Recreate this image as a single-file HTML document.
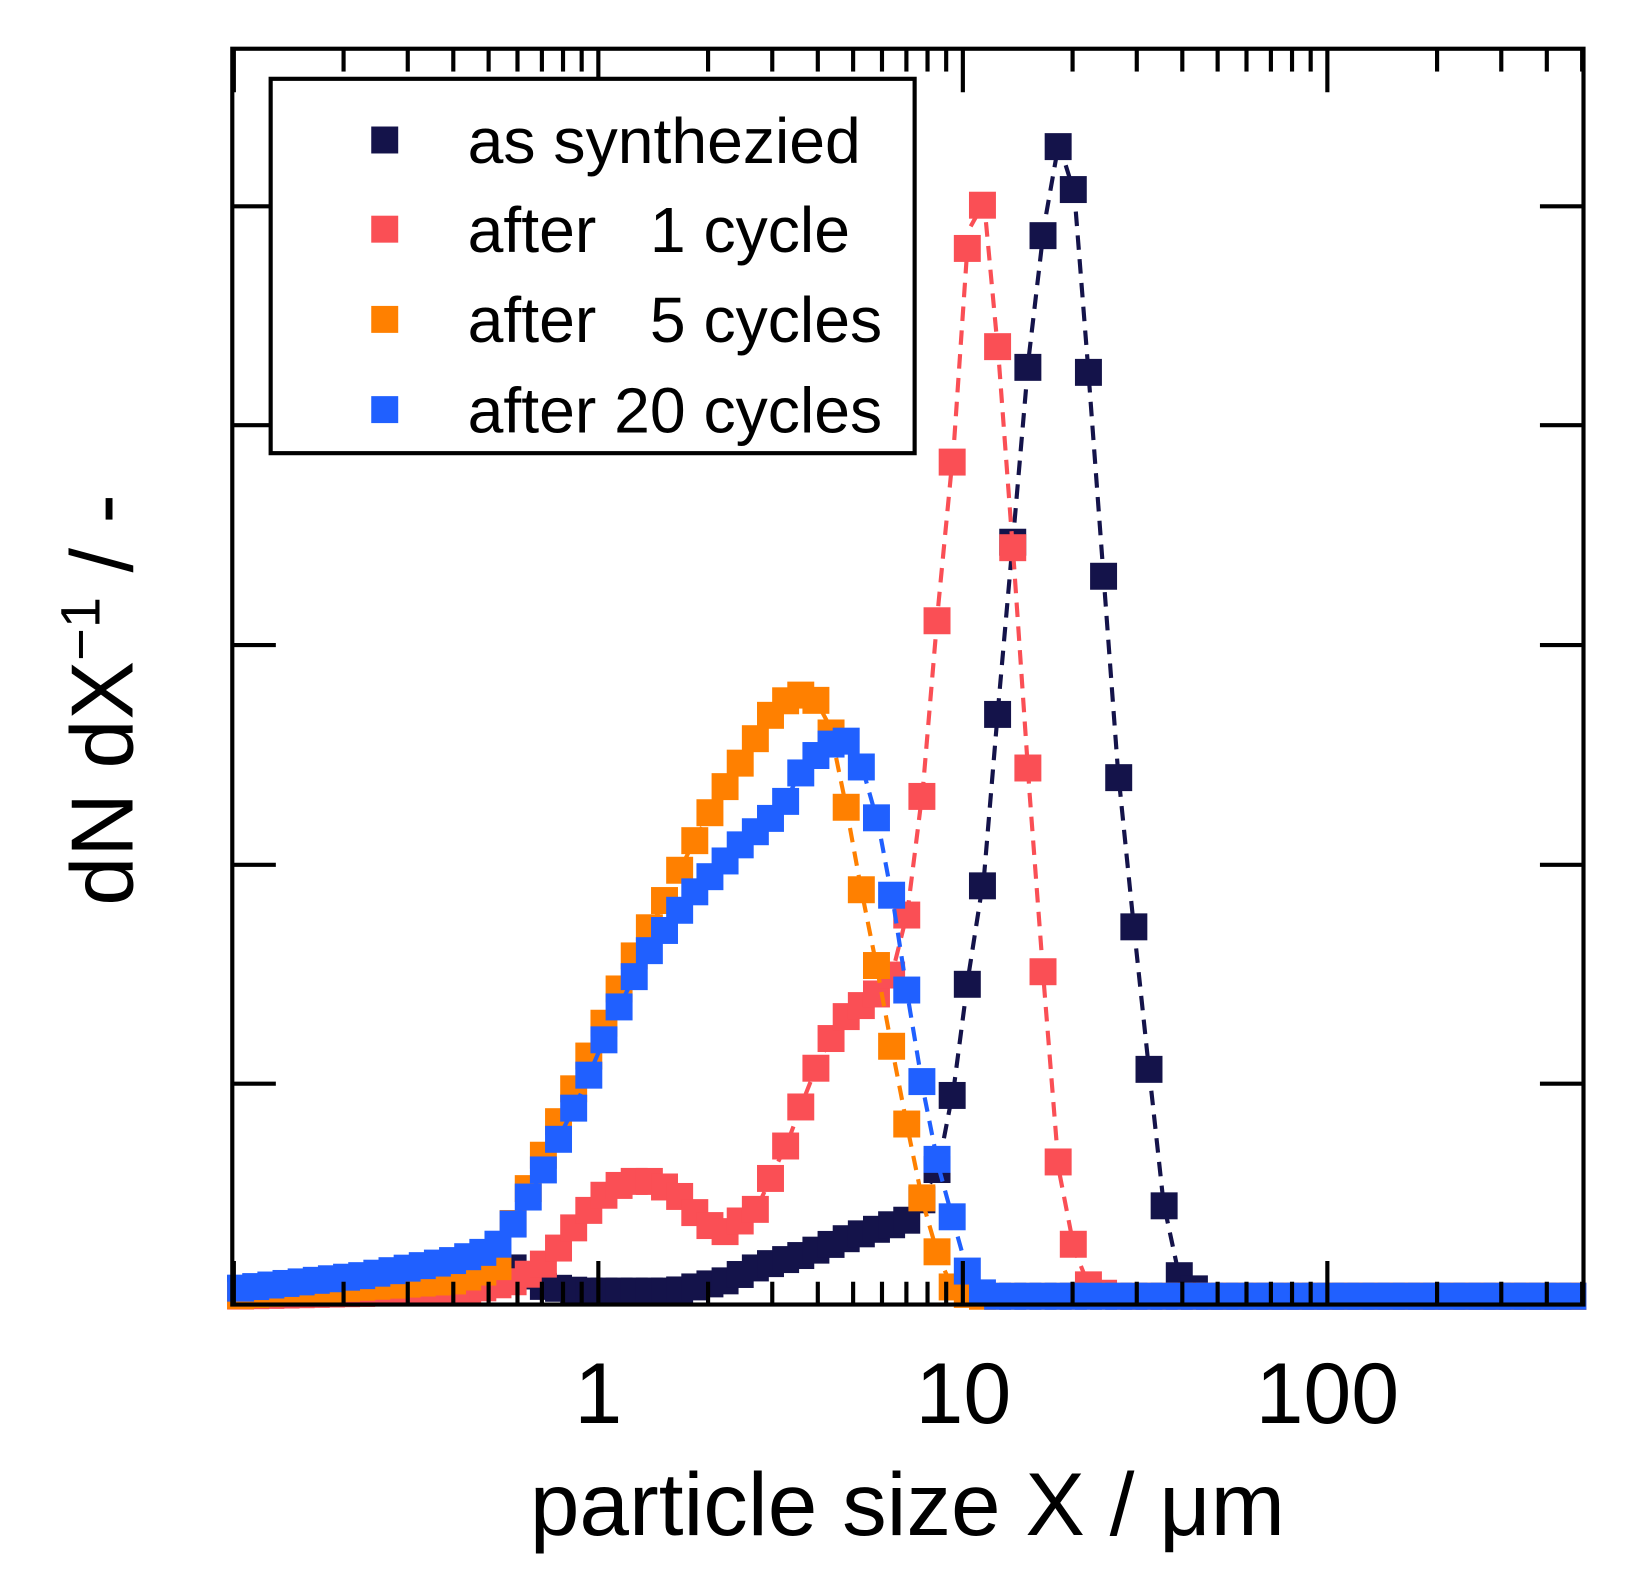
<!DOCTYPE html>
<html><head><meta charset="utf-8"><style>
html,body{margin:0;padding:0;background:#fff;}
svg{display:block;font-family:"Liberation Sans",Arial,sans-serif;}
</style></head><body>
<svg id="s" width="1626" height="1575" viewBox="0 0 1626 1575" xmlns="http://www.w3.org/2000/svg">
<rect width="1626" height="1575" fill="#fff"/>
<g transform="scale(1.037)">
<g id="data"></g>
<g id="axes" stroke="#000" stroke-width="4" fill="none"></g>
<rect x="224" y="47" width="1303" height="1211" fill="none" stroke="#000" stroke-width="4"/>
<rect x="261" y="76" width="621" height="361" fill="#fff" stroke="#000" stroke-width="4"/>
<rect x="358" y="122" width="26" height="26" fill="#14134a"/>
<rect x="358" y="208" width="26" height="26" fill="#fa4f55"/>
<rect x="358" y="295" width="26" height="26" fill="#ff8000"/>
<rect x="358" y="382" width="26" height="26" fill="#2060ff"/>
<g font-size="62" fill="#000">
<text x="451" y="157">as synthezied</text>
<text x="451" y="243">after &#160;&#160;1 cycle</text>
<text x="451" y="330">after &#160;&#160;5 cycles</text>
<text x="451" y="417">after 20 cycles</text>
</g>
<g font-size="83" fill="#000" text-anchor="middle">
<text x="577" y="1372">1</text>
<text x="929" y="1372">10</text>
<text x="1280" y="1372">100</text>
<text x="875" y="1480" font-size="86">particle size X / μm</text>
<text transform="translate(128,675) rotate(-90)" font-size="85">dN dX<tspan font-size="54" dy="-32">−1</tspan><tspan dy="32"> / -</tspan></text>
</g>
</g>
</svg>
<script>
var NS="http://www.w3.org/2000/svg";
var ax=document.getElementById('axes');
function ln(x1,y1,x2,y2){var l=document.createElementNS(NS,'line');l.setAttribute('x1',x1);l.setAttribute('y1',y1);l.setAttribute('x2',x2);l.setAttribute('y2',y2);ax.appendChild(l);}
var D=351.5,X1=577;
for(var e=-1;e<=2;e++){for(var m=1;m<10;m++){var x=X1+D*(e+Math.log10(m));if(x<=224||x>=1527)continue;var L=(m==1)?42:22;ln(x,1258,x,1258-L);ln(x,47,x,47+L);}}
[1045,834,622,410,199].forEach(function(y){ln(224,y,266,y);ln(1527,y,1485,y);});
var series=[
["#14134a",[[224,1243],[400,1235],[500,1222],[520,1240],[560,1245],[650,1245],[700,1235],[730,1222],[775,1210],[820,1193],[880,1175],[905,1125],[920,1047],[934,940],[949,844],[963,677],[978,507],[992,345],[1007,217],[1021,138],[1036,186],[1049,351],[1064,553],[1078,742],[1093,890],[1107,1022],[1122,1160],[1137,1230],[1160,1250],[1527,1250]]],
["#fa4f55",[[224,1250],[450,1245],[500,1235],[530,1215],[560,1175],[590,1145],[620,1137],[650,1148],[680,1180],[700,1188],[730,1165],[745,1132],[760,1100],[775,1060],[790,1022],[805,995],[820,975],[840,965],[860,940],[875,880],[890,760],[905,582],[920,427],[934,222],[949,195],[963,345],[978,547],[993,767],[1007,953],[1021,1128],[1036,1205],[1050,1240],[1070,1250],[1527,1250]]],
["#ff8000",[[224,1250],[440,1235],[480,1222],[500,1165],[515,1135],[530,1100],[545,1068],[560,1035],[575,1003],[590,970],[605,935],[620,905],[635,880],[650,850],[665,820],[680,792],[695,765],[710,742],[725,718],[740,693],[755,677],[770,670],[785,672],[800,700],[815,773],[830,855],[845,930],[860,1010],[875,1087],[890,1160],[905,1212],[920,1245],[940,1250],[1527,1250]]],
["#2060ff",[[224,1243],[350,1230],[440,1215],[475,1205],[490,1190],[500,1170],[515,1145],[530,1117],[545,1085],[560,1055],[575,1020],[590,985],[605,955],[620,925],[635,905],[650,885],[665,865],[680,850],[695,835],[710,818],[725,805],[740,792],[755,778],[770,748],[785,730],[800,718],[815,713],[832,742],[847,795],[862,875],[876,965],[891,1055],[905,1125],[920,1180],[934,1230],[950,1250],[1527,1250]]]
];
function interp(p,x){for(var i=0;i<p.length-1;i++){if(x>=p[i][0]&&x<=p[i+1][0]){var t=(x-p[i][0])/(p[i+1][0]-p[i][0]);return p[i][1]+t*(p[i+1][1]-p[i][1]);}}return p[p.length-1][1];}
var g=document.getElementById('data');
series.forEach(function(s){
  var c=s[0],p=s[1];
  var pl=document.createElementNS(NS,'polyline');
  pl.setAttribute('points',p.map(function(q){return q.join(',');}).join(' '));
  pl.setAttribute('fill','none');pl.setAttribute('stroke',c);pl.setAttribute('stroke-width','4');pl.setAttribute('stroke-dasharray','14 9');
  g.appendChild(pl);
  for(var x=232;x<1527;x+=14.6){var y=interp(p,x);var r=document.createElementNS(NS,'rect');
    r.setAttribute('x',x-13);r.setAttribute('y',y-13);r.setAttribute('width',26);r.setAttribute('height',26);r.setAttribute('fill',c);g.appendChild(r);}
});
</script>
</body></html>
